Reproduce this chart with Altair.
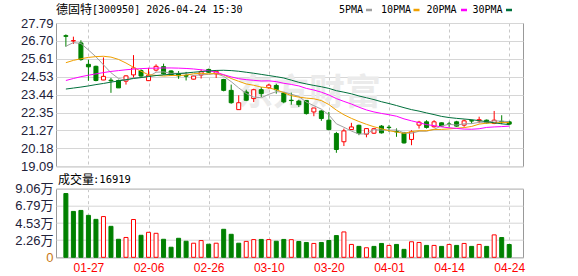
import altair as alt
import pandas as pd

# ---------------- data ----------------
stock_name = "德固特"
stock_info = "[300950] 2026-04-24 15:30"
vol_name = "成交量"
vol_info = ":16919"

dates = ["01-22", "01-23", "01-26", "01-27", "01-28", "01-29", "01-30", "02-02", "02-03", "02-04",
         "02-05", "02-06", "02-09", "02-10", "02-11", "02-12", "02-13", "02-24", "02-25", "02-26",
         "02-27", "03-02", "03-03", "03-04", "03-05", "03-06", "03-09", "03-10", "03-11", "03-12",
         "03-13", "03-16", "03-17", "03-18", "03-19", "03-20", "03-23", "03-24", "03-25", "03-26",
         "03-27", "03-30", "03-31", "04-01", "04-02", "04-03", "04-07", "04-08", "04-09", "04-10",
         "04-13", "04-14", "04-15", "04-16", "04-17", "04-20", "04-21", "04-22", "04-23", "04-24"]

open_ = [27.02, 26.70, 26.58, 25.28, 25.16, 24.33, 24.32, 24.30, 24.26, 24.64,
         24.90, 24.29, 24.93, 25.14, 24.88, 24.70, 24.60, 24.38, 24.63, 24.97,
         24.70, 24.36, 23.70, 22.53, 23.60, 23.20, 23.74, 23.86, 24.00, 23.54,
         23.10, 23.05, 23.09, 22.39, 22.45, 21.89, 21.08, 20.58, 21.32, 21.58,
         21.04, 21.10, 21.53, 21.46, 21.20, 21.12, 20.72, 21.59, 21.79, 21.49,
         21.73, 21.66, 21.79, 21.59, 21.86, 21.85, 21.89, 21.69, 21.82, 21.79]
high = [27.10, 26.96, 26.74, 25.56, 25.20, 25.70, 24.46, 24.35, 24.62, 25.84,
        24.98, 25.07, 25.28, 25.32, 24.92, 24.87, 24.82, 24.60, 24.97, 25.02,
        24.89, 24.40, 24.05, 23.40, 23.74, 23.80, 23.90, 24.10, 24.10, 23.60,
        23.56, 23.13, 23.10, 22.63, 22.49, 22.39, 21.18, 21.38, 21.73, 21.62,
        21.40, 21.42, 21.59, 21.59, 21.39, 21.18, 21.28, 21.85, 21.89, 21.89,
        21.75, 21.79, 21.85, 21.93, 21.93, 22.10, 21.93, 22.45, 22.19, 21.85]
low = [26.35, 26.52, 25.50, 24.28, 24.25, 24.32, 23.55, 23.85, 24.05, 24.46,
       24.52, 24.27, 24.85, 24.66, 24.58, 24.40, 24.30, 24.36, 24.42, 24.75,
       24.45, 23.64, 22.89, 22.53, 23.05, 22.99, 23.30, 23.80, 23.50, 22.92,
       22.83, 22.69, 22.23, 22.13, 21.85, 21.28, 19.91, 20.32, 21.30, 20.98,
       20.85, 21.05, 21.08, 21.18, 20.88, 20.47, 20.37, 21.38, 21.38, 21.44,
       21.50, 21.49, 21.49, 21.49, 21.68, 21.70, 21.69, 21.65, 21.65, 21.59]
close = [26.98, 26.72, 25.57, 25.13, 24.30, 24.55, 24.28, 23.85, 24.58, 25.06,
         24.57, 24.62, 25.16, 24.70, 24.62, 24.58, 24.56, 24.57, 24.83, 24.80,
         24.86, 23.70, 22.95, 22.95, 23.10, 23.74, 23.50, 24.02, 23.74, 23.00,
         23.08, 22.83, 22.29, 22.63, 21.99, 21.32, 20.11, 21.24, 21.48, 21.08,
         21.38, 21.37, 21.12, 21.44, 21.18, 20.51, 21.18, 21.77, 21.45, 21.79,
         21.53, 21.64, 21.53, 21.85, 21.84, 21.92, 21.73, 21.89, 21.79, 21.65]

volume = [84200, 60600, 61900, 55400, 50100, 53800, 40900, 23800, 26200, 49900,
          29100, 33000, 31700, 23800, 13300, 25100, 21200, 18600, 22100, 17300,
          18600, 37000, 30400, 18600, 21000, 23400, 23600, 23400, 21200, 23600,
          23300, 20900, 19600, 18300, 19600, 22200, 28700, 33500, 17000, 14400,
          12600, 14400, 18300, 15700, 17000, 10500, 20500, 19600, 15700, 15700,
          14400, 17000, 15700, 18300, 14400, 17000, 14400, 29600, 26100, 16919]
vol_up = [0, 0, 0, 0, 0, 1, 0, 0, 1, 1,
          0, 1, 1, 0, 0, 0, 0, 1, 1, 0,
          1, 0, 0, 0, 1, 1, 0, 1, 0, 0,
          1, 0, 0, 1, 0, 0, 0, 1, 1, 0,
          1, 0, 0, 1, 0, 0, 1, 1, 0, 1,
          0, 1, 0, 1, 0, 1, 0, 1, 0, 0]

ma5 = [26.38, 26.60, 26.55, 26.15, 25.74, 25.25, 24.77, 24.42, 24.31, 24.46,
       24.47, 24.54, 24.80, 24.82, 24.73, 24.74, 24.72, 24.61, 24.64, 24.67,
       24.72, 24.55, 24.23, 23.85, 23.51, 23.29, 23.25, 23.46, 23.62, 23.60,
       23.47, 23.33, 22.99, 22.77, 22.56, 22.21, 21.67, 21.46, 21.23, 21.05,
       21.06, 21.31, 21.29, 21.28, 21.30, 21.12, 21.09, 21.22, 21.22, 21.34,
       21.54, 21.64, 21.59, 21.67, 21.68, 21.76, 21.77, 21.85, 21.83, 21.80]
ma10 = [25.38, 25.52, 25.62, 25.70, 25.75, 25.77, 25.72, 25.58, 25.36, 25.10,
        24.86, 24.65, 24.61, 24.57, 24.60, 24.60, 24.63, 24.71, 24.73, 24.70,
        24.73, 24.64, 24.42, 24.25, 24.09, 24.01, 23.90, 23.85, 23.74, 23.56,
        23.38, 23.29, 23.23, 23.19, 23.08, 22.84, 22.50, 22.22, 22.00, 21.81,
        21.64, 21.49, 21.37, 21.25, 21.17, 21.09, 21.20, 21.25, 21.25, 21.32,
        21.33, 21.36, 21.40, 21.44, 21.51, 21.65, 21.71, 21.72, 21.75, 21.74]
ma20 = [24.30, 24.42, 24.53, 24.62, 24.70, 24.78, 24.85, 24.90, 24.95, 24.99,
        25.02, 25.04, 25.05, 25.06, 25.06, 25.05, 25.03, 25.00, 24.95, 24.90,
        24.80, 24.65, 24.52, 24.41, 24.35, 24.31, 24.27, 24.28, 24.23, 24.13,
        24.06, 23.97, 23.82, 23.72, 23.59, 23.42, 23.20, 23.03, 22.87, 22.68,
        22.51, 22.39, 22.30, 22.22, 22.13, 21.97, 21.85, 21.74, 21.62, 21.56,
        21.48, 21.43, 21.39, 21.35, 21.34, 21.37, 21.45, 21.48, 21.50, 21.53]
ma30 = [23.78, 23.84, 23.90, 23.97, 24.05, 24.12, 24.20, 24.27, 24.35, 24.42,
        24.48, 24.54, 24.60, 24.64, 24.68, 24.72, 24.76, 24.80, 24.84, 24.88,
        24.91, 24.92, 24.90, 24.86, 24.80, 24.74, 24.67, 24.60, 24.53, 24.45,
        24.32, 24.19, 24.09, 24.00, 23.92, 23.82, 23.68, 23.59, 23.49, 23.36,
        23.25, 23.14, 23.01, 22.90, 22.78, 22.65, 22.53, 22.44, 22.33, 22.23,
        22.12, 22.05, 22.00, 21.96, 21.92, 21.86, 21.80, 21.73, 21.67, 21.62]

ma_names = ["5PMA", "10PMA", "20PMA", "30PMA"]
ma_colors = ["#a0a0a0", "#f0a000", "#ff00ff", "#00703c"]

price_ticks = [27.79, 26.7025, 25.615, 24.5275, 23.44, 22.3525, 21.265, 20.1775, 19.09]
price_tick_labels = ["27.79", "26.70", "25.61", "24.53", "23.44", "22.35", "21.27", "20.18", "19.09"]
vol_ticks = [0, 22650, 45300, 67950, 90600]
vol_tick_labels = ["0", "2.26万", "4.53万", "6.79万", "9.06万"]
date_ticks = ["01-27", "02-06", "02-26", "03-10", "03-20", "04-01", "04-14", "04-24"]

# ---------------- tables ----------------
n = len(dates)
ids = list(range(n))
date_tick_idx = [dates.index(d) for d in date_ticks]


def js_arr(items):
    return "[" + ",".join("'" + str(s) + "'" for s in items) + "]"


def js_num(items):
    return "[" + ",".join(repr(v) for v in items) + "]"


candles = pd.DataFrame({"i": ids, "open": open_, "high": high, "low": low, "close": close})
candles["dir"] = ["up" if c >= o else "down" for o, c in zip(open_, close)]
vols = pd.DataFrame({"i": ids, "vol": volume, "dir": ["up" if u else "down" for u in vol_up]})
ma_df = pd.concat([pd.DataFrame({"i": ids, "v": vals, "name": nm})
                   for nm, vals in zip(ma_names, [ma5, ma10, ma20, ma30])], ignore_index=True)

# ---------------- styling ----------------
W, H1, H2 = 467, 143.3, 68.6
xs = alt.Scale(domain=[-0.65, n - 1 + 1.17], nice=False, zero=False)
ys = alt.Scale(domain=[price_ticks[-1], price_ticks[0]], nice=False, zero=False)
vs = alt.Scale(domain=[0, vol_ticks[-1]], nice=False, zero=True)
fill_scale = alt.Scale(domain=["up", "down"], range=["#ffffff", "#008000"])
stroke_scale = alt.Scale(domain=["up", "down"], range=["#ff0000", "#008000"])
LABEL_FONT = "Liberation Sans, Noto Sans CJK SC"
LABEL_COLOR = "#22223a"

x_price = alt.X("i:Q", scale=xs, title=None,
                axis=alt.Axis(values=date_tick_idx, grid=True, gridDash=[3, 3], gridColor="#c8c8c8",
                              labels=False, ticks=False, domain=False))
y_axis_price = alt.Axis(values=price_ticks, grid=True, gridColor="#d6d6d6", ticks=False, tickSize=0,
                        domain=False, labelFontSize=13, labelFont=LABEL_FONT, labelColor=LABEL_COLOR,
                        labelPadding=3,
                        labelExpr=js_arr(price_tick_labels) + "[indexof(" + js_num(price_ticks) + ", datum.value)]")

wicks = alt.Chart(candles).mark_rule(strokeWidth=1).encode(
    x=x_price,
    y=alt.Y("low:Q", scale=ys, axis=y_axis_price, title=None),
    y2="high:Q",
    stroke=alt.Stroke("dir:N", scale=stroke_scale, legend=None),
)
bodies = alt.Chart(candles).mark_bar(width=4, strokeWidth=1).encode(
    x=x_price,
    y=alt.Y("open:Q", scale=ys, axis=y_axis_price, title=None),
    y2="close:Q",
    fill=alt.Fill("dir:N", scale=fill_scale, legend=None),
    stroke=alt.Stroke("dir:N", scale=stroke_scale, legend=None),
)
ma_lines = alt.Chart(ma_df).mark_line(strokeWidth=1).encode(
    x=x_price,
    y=alt.Y("v:Q", scale=ys, axis=y_axis_price, title=None),
    color=alt.Color("name:N", scale=alt.Scale(domain=ma_names, range=ma_colors), legend=None),
)

watermark = alt.Chart(pd.DataFrame({"t": ["东方财富"]})).mark_text(
    font="Noto Sans CJK SC", fontSize=36, fontWeight="bold", color="#ebebeb", align="left",
    baseline="middle").encode(x=alt.value(181), y=alt.value(71), text="t:N")

title_a = alt.Chart(pd.DataFrame({"t": [stock_name]})).mark_text(
    font="Noto Sans CJK SC", fontSize=12, color="#000000", align="left", baseline="middle"
).encode(x=alt.value(0), y=alt.value(-13), text="t:N")
title_b = alt.Chart(pd.DataFrame({"t": [stock_info]})).mark_text(
    font="DejaVu Sans Mono", fontSize=10, color="#000000", align="left", baseline="middle"
).encode(x=alt.value(36), y=alt.value(-13), text="t:N")

legend_text_x = [283, 325, 370.5, 416.5]
legend_dash_x = [310, 357.5, 405, 450]
legend_layers = []
for nm, col, tx, dx in zip(ma_names, ma_colors, legend_text_x, legend_dash_x):
    legend_layers.append(alt.Chart(pd.DataFrame({"t": [nm]})).mark_text(
        font="DejaVu Sans Mono", fontSize=10, color="#000000", align="left", baseline="middle"
    ).encode(x=alt.value(tx), y=alt.value(-13), text="t:N"))
    legend_layers.append(alt.Chart(pd.DataFrame({"t": [nm]})).mark_rule(
        strokeWidth=2.5, color=col).encode(x=alt.value(dx), x2=alt.value(dx + 6), y=alt.value(-13)))

# invisible anchor so the canvas origin sits 55px left / 22px above the plot
anchor = alt.Chart(pd.DataFrame({"t": [0]})).mark_rule(strokeWidth=0, opacity=0).encode(
    x=alt.value(-55), x2=alt.value(-54), y=alt.value(-22))

price = alt.layer(watermark, wicks, bodies, ma_lines, title_a, title_b, *legend_layers, anchor).properties(
    width=W, height=H1)

# ---------------- volume panel ----------------
x_vol = alt.X("i:Q", scale=xs, title=None,
              axis=alt.Axis(values=date_tick_idx, grid=True, gridDash=[3, 3], gridColor="#c8c8c8",
                            ticks=False, tickSize=0, domain=False, labelFontSize=12,
                            labelFont=LABEL_FONT, labelColor="#ff0000", labelPadding=5,
                            labelExpr=js_arr(dates) + "[datum.value]"))
y_axis_vol = alt.Axis(values=vol_ticks, grid=True, gridColor="#d6d6d6", ticks=False, tickSize=0,
                      domain=False, labelFontSize=13, labelFont=LABEL_FONT, labelPadding=3,
                      labelColor={"expr": "datum.value == 0 ? '#c87814' : '" + LABEL_COLOR + "'"},
                      labelExpr=js_arr(vol_tick_labels) + "[indexof(" + js_num(vol_ticks) + ", datum.value)]")

vol_bars = alt.Chart(vols).mark_bar(width=4, strokeWidth=1).encode(
    x=x_vol,
    y=alt.Y("vol:Q", scale=vs, axis=y_axis_vol, title=None),
    y2=alt.datum(0),
    fill=alt.Fill("dir:N", scale=fill_scale, legend=None),
    stroke=alt.Stroke("dir:N", scale=stroke_scale, legend=None),
)
vol_title_a = alt.Chart(pd.DataFrame({"t": [vol_name]})).mark_text(
    font="Noto Sans CJK SC", fontSize=12, color="#000000", align="left", baseline="middle"
).encode(x=alt.value(2), y=alt.value(-9), text="t:N")
vol_title_b = alt.Chart(pd.DataFrame({"t": [vol_info]})).mark_text(
    font="DejaVu Sans Mono", fontSize=10.5, color="#000000", align="left", baseline="middle"
).encode(x=alt.value(37), y=alt.value(-9), text="t:N")

vol_panel = alt.layer(vol_bars, vol_title_a, vol_title_b).properties(width=W, height=H2)

chart = alt.vconcat(price, vol_panel, spacing=21.7, bounds="flush").properties(
    padding=0, background="#ffffff"
).configure_view(stroke="#999999", strokeWidth=1)

chart.save("out.html", embed_options={"renderer": "svg", "actions": False})
